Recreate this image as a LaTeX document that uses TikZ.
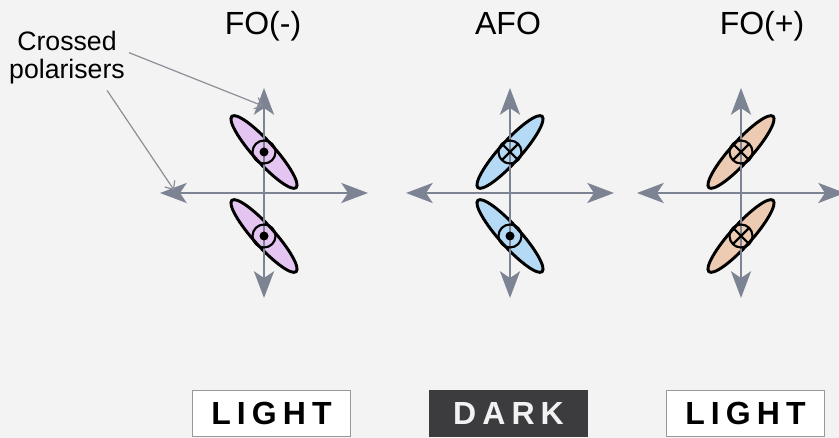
\documentclass[tikz,border=0pt]{standalone}
\usepackage{fontspec}
\setmainfont{Liberation Sans}
\usepackage{xcolor}
\usetikzlibrary{arrows.meta, positioning}
\definecolor{axisgrey}{RGB}{124,131,147}
\definecolor{pointgrey}{RGB}{140,142,152}
\definecolor{lcpink}{RGB}{228,196,240}
\definecolor{lcblue}{RGB}{180,218,245}
\definecolor{lcpeach}{RGB}{237,202,178}
\definecolor{bggrey}{RGB}{243,243,243}
\definecolor{darkbox}{RGB}{60,60,62}

\tikzset{
  polaxis/.style={axisgrey, line width=1.9pt,
    {Stealth[length=20pt,width=15pt,inset=5pt]}-{Stealth[length=20pt,width=15pt,inset=5pt]}},
  pointer/.style={pointgrey, line width=0.9pt, -{Straight Barb[length=5pt,width=9pt]}},
  molecule/.style={draw=black, line width=2.2pt},
  phase/.style={font=\fontsize{24}{24}\selectfont, anchor=base},
  statebox/.style={minimum width=119pt, minimum height=35pt, inner sep=0pt,
    font=\fontsize{24}{24}\selectfont\bfseries\addfontfeature{LetterSpace=19}},
  lightbox/.style={statebox, draw=gray!80, line width=0.9pt, fill=white},
  darkbox/.style={statebox, fill=darkbox, text=gray!10}
}

% dipole pointing out of / into the page
\newcommand{\mkdot}[2]{
  \draw[line width=1.6pt] (#1,#2) circle (11.5);
  \fill (#1,#2) circle (4.5);
}
\newcommand{\mkcross}[2]{
  \draw[line width=1.6pt] (#1,#2) circle (11.5);
  \draw[line width=1.6pt] (#1,#2) +(45:11.5) -- +(225:11.5) (#1,#2) +(135:11.5) -- +(315:11.5);
}

\begin{document}
\begin{tikzpicture}[x=0.75pt, y=0.75pt]
        \useasboundingbox (0,0) rectangle (839,438);
        \fill[bggrey] (0,0) rectangle (839,438);

        % Phase labels
        \node[phase] (fominus) at (263,403) {FO(-)};
        \node[phase] (afo) at (508,403) {AFO};
        \node[phase] (foplus) at (762,403) {FO(+)};

        % Two layers in each phase, polarisers crossed over them
        \foreach \px/\col/\upang/\loang/\upmark/\lomark in
            {264/lcpink/-48/-48/dot/dot, 510/lcblue/48/-48/cross/dot, 741/lcpeach/48/48/cross/cross} {
            \draw[molecule, fill=\col, shift={(\px,286)}, rotate=\upang] (0,0) ellipse (48 and 10.5);
            \draw[molecule, fill=\col, shift={(\px,202)}, rotate=\loang] (0,0) ellipse (48 and 10.5);
            \draw[polaxis] (\px-104,245) -- (\px+104,245);
            \draw[polaxis] (\px,140) -- (\px,350);
            \csname mk\upmark\endcsname{\px}{286}
            \csname mk\lomark\endcsname{\px}{202}
        }

        % Polariser callout
        \node[font=\fontsize{20}{21}\selectfont, align=center, anchor=north, inner sep=0pt]
            (polar) at (67,407) {Crossed\\polarisers};
        \coordinate (vtip) at (263,332);
        \coordinate (htip) at (174,248);
        \draw[pointer] ([shift={(4,5)}]polar.east) -- (vtip);
        \draw[pointer] ([shift={(-18,-6)}]polar.south east) -- (htip);

        % Transmitted light
        \node[lightbox] (lightl) at (271.5,24.5) {LIGHT};
        \node[darkbox] (dark) at (508.5,24.5) {DARK};
        \node[lightbox] (lightr) at (745.5,24.5) {LIGHT};
    \end{tikzpicture}
\end{document}
